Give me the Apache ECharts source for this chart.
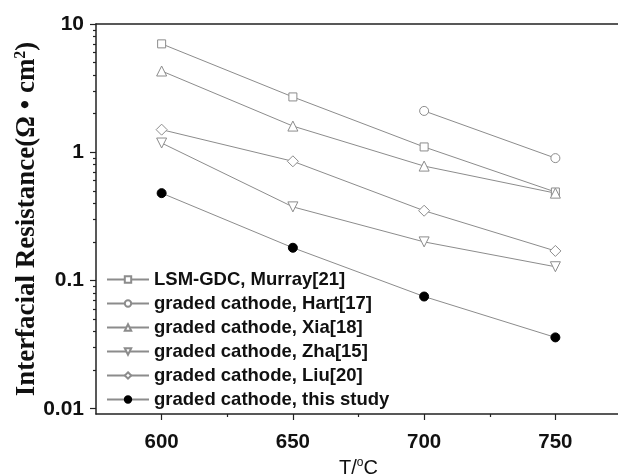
<!DOCTYPE html>
<html>
<head>
<meta charset="utf-8">
<script src="https://cdn.jsdelivr.net/npm/echarts@6/dist/echarts.min.js"></script>
<style>html,body{margin:0;padding:0;background:#fff}#c{width:618px;height:476px}</style>
</head>
<body>
<div id="c"></div>
<script>
var temps = [600, 650, 700, 750];
var murray = [7.0, 2.7, 1.1, 0.49];
var hart = [null, null, 2.1, 0.9];
var xia = [4.3, 1.6, 0.78, 0.48];
var zha = [1.18, 0.375, 0.2, 0.128];
var liu = [1.5, 0.85, 0.35, 0.17];
var study = [0.48, 0.18, 0.075, 0.036];
var names = ['LSM-GDC, Murray[21]', 'graded cathode, Hart[17]', 'graded cathode, Xia[18]',
             'graded cathode, Zha[15]', 'graded cathode, Liu[20]', 'graded cathode, this study'];
var xMajor = [600, 650, 700, 750];
var xMinor = [625, 675, 725];
var yMajor = [0.01, 0.1, 1, 10];
var yMinor = [0.02,0.03,0.04,0.05,0.06,0.07,0.08,0.09,0.2,0.3,0.4,0.5,0.6,0.7,0.8,0.9,2,3,4,5,6,7,8,9];

function pairs(vals) {
  var out = [];
  for (var i = 0; i < temps.length; i++) if (vals[i] != null) out.push([temps[i], vals[i]]);
  return out;
}
var LINE = '#8c8c8c';
var AX = '#222';
function mk(name, vals, symbol, size, filled, rot) {
  return {
    name: name, type: 'line', data: pairs(vals), xAxisIndex: 0, yAxisIndex: 0,
    symbol: symbol, symbolSize: size, symbolRotate: rot || 0, showAllSymbol: true,
    lineStyle: { color: LINE, width: 1 },
    itemStyle: filled ? { color: '#000', borderColor: '#000', borderWidth: 1 }
                      : { color: '#fff', borderColor: LINE, borderWidth: 1 },
    emphasis: { disabled: true },
    z: filled ? 3 : 2
  };
}
var chart = echarts.init(document.getElementById('c'), null, { renderer: 'canvas' });
chart.setOption({
  animation: false,
  backgroundColor: '#fff',
  grid: { left: 96, right: -3, top: 24, bottom: 62, containLabel: false, outerBoundsMode: 'none' },
  legend: {
    orient: 'vertical', left: 101, top: 265, itemGap: 5, itemWidth: 42, itemHeight: 8,
    data: names,
    textStyle: { fontFamily: 'Liberation Sans', fontWeight: 'bold', fontSize: 18.5, color: '#111', lineHeight: 19 }
  },
  xAxis: [{
    type: 'value', position: 'bottom', min: 575, max: 775,
    axisLine: { show: true, lineStyle: { color: AX, width: 1.5 } },
    axisTick: { show: true, inside: false, length: 6, customValues: xMajor, lineStyle: { color: AX, width: 1.2 } },
    axisLabel: { show: true, customValues: xMajor, margin: 18, fontFamily: 'Liberation Sans', fontWeight: 'bold', fontSize: 20.5, color: '#111' },
    splitLine: { show: false },
    name: '{a|T/}{s|o}{a|C}', nameLocation: 'middle', nameGap: 43, nameMoveOverlap: false,
    nameTextStyle: { rich: {
      a: { fontFamily: 'Liberation Sans', fontSize: 20, color: '#111' },
      s: { fontFamily: 'Liberation Sans', fontSize: 12, color: '#111', verticalAlign: 'top', padding: [0, 0, 10, 0] }
    } }
  }, {
    type: 'value', position: 'bottom', min: 575, max: 775,
    axisLine: { show: false },
    axisTick: { show: true, length: 3, customValues: xMinor, lineStyle: { color: AX, width: 1.2 } },
    axisLabel: { show: false }, splitLine: { show: false }
  }, {
    type: 'value', position: 'top', min: 575, max: 775,
    axisLine: { show: true, lineStyle: { color: AX, width: 1.5 } },
    axisTick: { show: false }, axisLabel: { show: false }, splitLine: { show: false }
  }],
  yAxis: [{
    type: 'log', logBase: 10, min: 0.0091, max: 10, position: 'left',
    axisLine: { show: true, lineStyle: { color: AX, width: 1.5 } },
    axisTick: { show: true, length: 6, customValues: yMajor, lineStyle: { color: AX, width: 1.2 } },
    axisLabel: { show: true, customValues: yMajor, margin: 12, fontFamily: 'Liberation Sans', fontWeight: 'bold', fontSize: 21, color: '#111',
      formatter: function (v) { return String(+v.toPrecision(3)); } },
    splitLine: { show: false },
    name: '{a|Interfacial Resistance(Ω • cm}{s|2}{a|)}', nameLocation: 'middle', nameGap: 55, nameMoveOverlap: false,
    nameTextStyle: { rich: {
      a: { fontFamily: 'Liberation Serif', fontWeight: 'bold', fontSize: 27, color: '#111' },
      s: { fontFamily: 'Liberation Serif', fontWeight: 'bold', fontSize: 16, color: '#111', verticalAlign: 'top', padding: [0, 0, 12, 0] }
    } }
  }, {
    type: 'log', logBase: 10, min: 0.0091, max: 10, position: 'left',
    axisLine: { show: false },
    axisTick: { show: true, length: 3, customValues: yMinor, lineStyle: { color: AX, width: 1.2 } },
    axisLabel: { show: false }, splitLine: { show: false }
  }],
  series: [
    mk(names[0], murray, 'rect', 8, false),
    mk(names[1], hart, 'circle', 9, false),
    mk(names[2], xia, 'triangle', 10, false),
    mk(names[3], zha, 'triangle', 10, false, 180),
    mk(names[4], liu, 'diamond', 11, false),
    mk(names[5], study, 'circle', 9, true)
  ]
});
</script>
</body>
</html>
